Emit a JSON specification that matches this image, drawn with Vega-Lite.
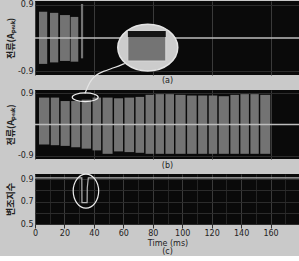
{
  "$schema": "https://vega.github.io/schema/vega-lite/v6.json",
  "background": "#c9c9c9",
  "padding": {"left": 5, "top": 0, "right": 0, "bottom": 0},
  "spacing": 15,
  "bounds": "flush",
  "datasets": {
    "blocksA": [
      {"t0": 2.7, "t1": 8.3, "lo": -0.70, "hi": 0.71},
      {"t0": 10.2, "t1": 15.8, "lo": -0.66, "hi": 0.68},
      {"t0": 17.0, "t1": 23.7, "lo": -0.62, "hi": 0.62},
      {"t0": 24.2, "t1": 29.4, "lo": -0.64, "hi": 0.57},
      {"t0": 31.2, "t1": 32.7, "lo": -0.55, "hi": 0.92}
    ],
    "blocksB": [
      {"t0": 2.7, "t1": 9.7, "lo": -0.58, "hi": 0.78},
      {"t0": 10.7, "t1": 16.4, "lo": -0.60, "hi": 0.78},
      {"t0": 17.4, "t1": 23.6, "lo": -0.62, "hi": 0.68},
      {"t0": 24.6, "t1": 30.7, "lo": -0.66, "hi": 0.68},
      {"t0": 31.7, "t1": 38.1, "lo": -0.70, "hi": 0.72},
      {"t0": 39.1, "t1": 44.9, "lo": -0.75, "hi": 0.78},
      {"t0": 45.9, "t1": 52.7, "lo": -0.85, "hi": 0.78},
      {"t0": 53.7, "t1": 59.8, "lo": -0.78, "hi": 0.76},
      {"t0": 60.8, "t1": 67.3, "lo": -0.80, "hi": 0.78},
      {"t0": 68.3, "t1": 74.1, "lo": -0.82, "hi": 0.80},
      {"t0": 75.1, "t1": 80.9, "lo": -0.85, "hi": 0.86},
      {"t0": 81.9, "t1": 87.6, "lo": -0.85, "hi": 0.88},
      {"t0": 88.6, "t1": 94.4, "lo": -0.85, "hi": 0.88},
      {"t0": 95.4, "t1": 102.3, "lo": -0.85, "hi": 0.86},
      {"t0": 103.3, "t1": 109.8, "lo": -0.85, "hi": 0.84},
      {"t0": 110.8, "t1": 117.0, "lo": -0.85, "hi": 0.84},
      {"t0": 118.0, "t1": 123.8, "lo": -0.85, "hi": 0.84},
      {"t0": 124.8, "t1": 131.7, "lo": -0.85, "hi": 0.82},
      {"t0": 132.7, "t1": 138.5, "lo": -0.85, "hi": 0.86},
      {"t0": 139.5, "t1": 145.3, "lo": -0.85, "hi": 0.88},
      {"t0": 146.3, "t1": 152.0, "lo": -0.85, "hi": 0.88},
      {"t0": 153.0, "t1": 159.8, "lo": -0.85, "hi": 0.86}
    ],
    "inset": [
      {"t0": 63.1, "t1": 88.8, "lo": -0.62, "hi": 0.19}
    ],
    "insetTop": [
      {"t0": 63.1, "t1": 88.8, "lo": 0.03, "hi": 0.19}
    ],
    "bigCircle": [{"t": 76.6, "v": -0.26}],
    "smallEllipseB": [{"t": 34.1, "v": 0.79}],
    "connector": [
      {"t": 33.9, "v": 0.90},
      {"t": 37.3, "v": 1.25},
      {"t": 40.7, "v": 1.42},
      {"t": 46.1, "v": 1.54},
      {"t": 54.2, "v": 1.65},
      {"t": 61.0, "v": 1.77}
    ],
    "modIndex": [
      {"t": 0, "v": 0.91},
      {"t": 31.8, "v": 0.91},
      {"t": 31.9, "v": 0.69},
      {"t": 35.4, "v": 0.69},
      {"t": 35.5, "v": 0.82},
      {"t": 36.2, "v": 0.91},
      {"t": 180, "v": 0.91}
    ],
    "ellipseC": [{"t": 34.6, "v": 0.793}],
    "zero": [{"v": 0}]
  },
  "vconcat": [
    {
      "width": 265,
      "height": 74,
      "title": {"text": "(a)", "orient": "bottom", "offset": 2},
      "layer": [
        {
          "data": {"name": "blocksA"},
          "mark": {"type": "rect", "color": "#737373"},
          "encoding": {
            "x": {"field": "t0", "type": "quantitative", "scale": {"domain": [0, 180], "nice": false},
              "axis": {"values": [0,10,20,30,40,50,60,70,80,90,100,110,120,130,140,150,160,170,180], "labels": false, "ticks": false, "title": null, "grid": true,
                "gridColor": {"condition": {"test": "datum.value % 20 == 0", "value": "#3a3a3a"}, "value": "#252525"}}},
            "x2": {"field": "t1"},
            "y": {"field": "hi", "type": "quantitative", "scale": {"domain": [-1, 1], "nice": false},
              "axis": {"values": [-0.9,-0.6,-0.3,0,0.3,0.6,0.9], "labelExpr": "datum.value > 0.8 ? '0.9' : datum.value < -0.8 ? '-0.9' : ''", "grid": true, "title": "전류(Aₚₑₐₖ)", "titleX": -25, "titleBaseline": "middle"}},
            "y2": {"field": "lo"}
          }
        },
        {
          "data": {"name": "zero"},
          "mark": {"type": "rule", "color": "#bdbdbd", "strokeWidth": 1.5},
          "encoding": {"y": {"field": "v", "type": "quantitative"}}
        },
        {
          "data": {"name": "bigCircle"},
          "mark": {"type": "point", "shape": "M -1 0 A 1 0.78 0 1 0 1 0 A 1 0.78 0 1 0 -1 0 Z", "size": 3600, "filled": true, "fill": "#cccccc", "stroke": "#e4e4e4", "strokeWidth": 1.5, "opacity": 1},
          "encoding": {"x": {"field": "t", "type": "quantitative"}, "y": {"field": "v", "type": "quantitative"}}
        },
        {
          "data": {"name": "inset"},
          "mark": {"type": "rect", "color": "#747474", "stroke": "#dddddd", "strokeWidth": 0.8},
          "encoding": {"x": {"field": "t0", "type": "quantitative"}, "x2": {"field": "t1"}, "y": {"field": "hi", "type": "quantitative"}, "y2": {"field": "lo"}}
        },
        {
          "data": {"name": "insetTop"},
          "mark": {"type": "rect", "color": "#151515"},
          "encoding": {"x": {"field": "t0", "type": "quantitative"}, "x2": {"field": "t1"}, "y": {"field": "hi", "type": "quantitative"}, "y2": {"field": "lo"}}
        }
      ]
    },
    {
      "width": 265,
      "height": 69,
      "title": {"text": "(b)", "orient": "bottom", "offset": 2},
      "layer": [
        {
          "data": {"name": "blocksB"},
          "mark": {"type": "rect", "color": "#737373"},
          "encoding": {
            "x": {"field": "t0", "type": "quantitative", "scale": {"domain": [0, 180], "nice": false},
              "axis": {"values": [0,10,20,30,40,50,60,70,80,90,100,110,120,130,140,150,160,170,180], "labels": false, "ticks": false, "title": null, "grid": true,
                "gridColor": {"condition": {"test": "datum.value % 20 == 0", "value": "#3a3a3a"}, "value": "#252525"}}},
            "x2": {"field": "t1"},
            "y": {"field": "hi", "type": "quantitative", "scale": {"domain": [-1, 1], "nice": false},
              "axis": {"values": [-0.9,-0.6,-0.3,0,0.3,0.6,0.9], "labelExpr": "datum.value > 0.8 ? '0.9' : datum.value < -0.8 ? '-0.9' : ''", "grid": true, "title": "전류(Aₚₑₐₖ)", "titleX": -25, "titleBaseline": "middle"}},
            "y2": {"field": "lo"}
          }
        },
        {
          "data": {"name": "zero"},
          "mark": {"type": "rule", "color": "#bdbdbd", "strokeWidth": 1.5},
          "encoding": {"y": {"field": "v", "type": "quantitative"}}
        },
        {
          "data": {"name": "smallEllipseB"},
          "mark": {"type": "point", "shape": "M -1 0 A 1 0.33 0 1 0 1 0 A 1 0.33 0 1 0 -1 0 Z", "size": 676, "filled": false, "stroke": "#eeeeee", "strokeWidth": 1.2, "opacity": 1},
          "encoding": {"x": {"field": "t", "type": "quantitative"}, "y": {"field": "v", "type": "quantitative"}}
        },
        {
          "data": {"name": "connector"},
          "mark": {"type": "line", "interpolate": "basis", "clip": false, "color": "#e4e4e4", "strokeWidth": 1.2},
          "encoding": {"x": {"field": "t", "type": "quantitative"}, "y": {"field": "v", "type": "quantitative"}}
        }
      ]
    },
    {
      "width": 265,
      "height": 50,
      "title": {"text": "(c)", "orient": "bottom", "offset": 1},
      "resolve": {"axis": {"x": "independent", "y": "independent"}},
      "layer": [
        {
          "data": {"name": "modIndex"},
          "mark": {"type": "line", "color": "#b5b5b5", "strokeWidth": 1.2},
          "encoding": {
            "x": {"field": "t", "type": "quantitative", "scale": {"domain": [0, 180], "nice": false},
              "axis": {"orient": "bottom", "values": [0,20,40,60,80,100,120,140,160],
                "tickSize": 4, "tickColor": "#333333", "labelPadding": 1, "grid": false,
                "title": "Time (ms)", "titleFont": "DejaVu Sans", "titleFontWeight": "normal", "titleFontSize": 8, "titlePadding": 2}},
            "y": {"field": "v", "type": "quantitative", "scale": {"domain": [0.5, 0.945], "nice": false},
              "axis": {"orient": "left", "values": [0.5,0.7,0.9], "format": ".1f", "grid": false, "title": "변조지수", "titleX": -25, "titleBaseline": "middle"}}
          }
        },
        {
          "data": {"name": "ellipseC"},
          "mark": {"type": "point", "shape": "M -0.75 0 A 0.75 1 0 1 0 0.75 0 A 0.75 1 0 1 0 -0.75 0 Z", "size": 1156, "filled": false, "stroke": "#eeeeee", "strokeWidth": 1.2, "opacity": 1},
          "encoding": {
            "x": {"field": "t", "type": "quantitative",
              "axis": {"orient": "bottom", "values": [0,10,20,30,40,50,60,70,80,90,100,110,120,130,140,150,160,170,180], "labels": false, "ticks": false, "title": null, "grid": true,
                "gridColor": {"condition": {"test": "datum.value % 20 == 0", "value": "#3a3a3a"}, "value": "#252525"}}},
            "y": {"field": "v", "type": "quantitative",
              "axis": {"orient": "left", "values": [0.5,0.6,0.7,0.8,0.9], "labels": false, "ticks": false, "title": null, "grid": true}}
          }
        }
      ]
    }
  ],
  "config": {
    "view": {"fill": "#0a0a0a", "stroke": null},
    "axis": {"domain": false, "labelFont": "DejaVu Sans", "labelFontSize": 8, "labelColor": "#222222", "titleFont": "Noto Sans CJK KR", "titleFontSize": 9, "titleFontWeight": "bold", "titleColor": "#222222", "gridColor": "#2c2c2c", "tickSize": 0, "labelOverlap": false, "labelFlush": false, "labelPadding": 2},
    "title": {"font": "DejaVu Sans", "fontSize": 8, "fontWeight": "normal", "color": "#222222"}
  }
}
